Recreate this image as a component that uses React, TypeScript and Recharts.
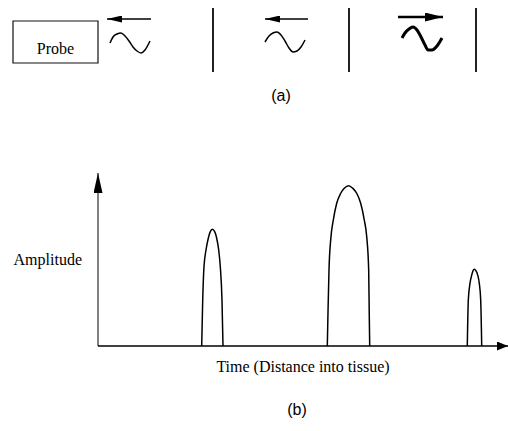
import React from "react";
import { LineChart, Line, XAxis, YAxis, ReferenceLine, ReferenceArea, Label } from "recharts";

// ---- Part (b): echo amplitude vs time (arbitrary units 0..100) ----
const peak1T = [25.29, 25.54, 25.85, 26.34, 26.9, 27.39, 27.88, 28.46, 28.95, 29.44, 29.83, 30.24, 30.49];
const peak1A = [0, 26.6, 45.8, 55.5, 62.3, 66.1, 67.5, 66.1, 62.3, 55.5, 45.8, 26.6, 0];
const peak2T = [55.93, 56.1, 56.34, 56.83, 57.39, 58.22, 59.2, 60.07, 61.15, 62.12, 63.1, 64.07, 64.95, 65.54, 66.02, 66.15, 66.27];
const peak2A = [0, 20, 43.9, 63.2, 72.8, 82.5, 88.3, 91.2, 92.7, 91.2, 88.3, 82.5, 72.8, 63.2, 43.9, 20, 0];
const peak3T = [90.07, 90.32, 90.73, 91.15, 91.46, 91.78, 92.2, 92.61, 93.0, 93.34, 93.59];
const peak3A = [0, 26.6, 36.2, 41.0, 43.4, 44.3, 43.4, 41.0, 36.2, 26.6, 0];

const xLabel = "Time (Distance into tissue)";
const yLabel = "Amplitude";

// ---- Part (a): diagram (diagram units) ----
const wave1X = [110, 113, 117, 121, 125, 129, 133, 137, 141, 145, 150];
const wave1Y = [43, 37, 34, 33, 36, 41, 47, 51, 53, 50, 41];
const wave2X = [265, 269, 273, 277, 281, 285, 289, 293, 297, 301, 305];
const wave2Y = [42, 36, 33, 32, 35, 41, 48, 52, 51, 47, 40];
const wave3X = [402, 405, 409, 413, 417, 421, 425, 428, 432, 437, 442];
const wave3Y = [38, 33, 29, 27, 30, 37, 45, 50, 50, 46, 38];
const arrow1X = [107, 151];
const arrow1Y = [19, 19];
const arrow2X = [265, 308];
const arrow2Y = [19, 19];
const arrow3X = [398, 443];
const arrow3Y = [17, 17];
const boundaryX = [213, 349, 476];
const boundaryY = [8, 72];
const probeBox = { x1: 13, x2: 98, y1: 21, y2: 63 };
const probeLabel = "Probe";
const panelLabels = ["(a)", "(b)"];

const zip = (xs: number[], ys: number[], kx: string, ky: string) =>
  xs.map((v, i) => ({ [kx]: v, [ky]: ys[i] }));

const serif = "'Liberation Serif', 'Times New Roman', serif";
const sans = "'Liberation Sans', Arial, sans-serif";

export default function App() {
  return (
    <div style={{ position: "absolute", left: 0, top: 0, width: 508, height: 431, background: "#fff", overflow: "hidden" }}>
      <svg width={0} height={0} style={{ position: "absolute" }}>
        <defs>
          <marker id="axArrowX" viewBox="0 0 11 9" refX={11} refY={4.5} markerWidth={11} markerHeight={9} markerUnits="userSpaceOnUse" orient="auto">
            <path d="M0,0 L11,4.5 L0,9 z" fill="#000" />
          </marker>
          <marker id="axArrowY" viewBox="0 0 20 9" refX={20} refY={4.5} markerWidth={20} markerHeight={9} markerUnits="userSpaceOnUse" orient="auto-start-reverse">
            <path d="M0,0 L20,4.5 L0,9 z" fill="#000" />
          </marker>
          <marker id="smallArrow" viewBox="0 0 15 7" refX={15} refY={3.5} markerWidth={15} markerHeight={7} markerUnits="userSpaceOnUse" orient="auto-start-reverse">
            <path d="M0,0 L15,3.5 L0,7 z" fill="#000" />
          </marker>
          <marker id="boldArrow" viewBox="0 0 18 9" refX={18} refY={4.5} markerWidth={18} markerHeight={9} markerUnits="userSpaceOnUse" orient="auto">
            <path d="M0,0 L18,4.5 L0,9 z" fill="#000" />
          </marker>
        </defs>
      </svg>

      {/* Part (a) diagram */}
      <div style={{ position: "absolute", left: 0, top: 0 }}>
        <LineChart width={508} height={90} margin={{ top: 0, right: 0, bottom: 0, left: 0 }}>
          <XAxis type="number" dataKey="x" domain={[0, 508]} hide />
          <YAxis type="number" dataKey="y" domain={[0, 90]} reversed hide />
          <ReferenceArea x1={probeBox.x1} x2={probeBox.x2} y1={probeBox.y1} y2={probeBox.y2} fill="none" fillOpacity={0} stroke="#111" strokeWidth={1.2} ifOverflow="visible">
            <Label value={probeLabel} position="insideBottom" offset={9} fill="#000" style={{ fontFamily: serif, fontSize: 16 }} />
          </ReferenceArea>
          {boundaryX.map((bx) => (
            <ReferenceLine key={bx} segment={[{ x: bx, y: boundaryY[0] }, { x: bx, y: boundaryY[1] }]} stroke="#222" strokeWidth={2} ifOverflow="visible" />
          ))}
          <Line data={zip(arrow1X, arrow1Y, "x", "y")} dataKey="y" stroke="#000" strokeWidth={1.5} dot={false} isAnimationActive={false} markerStart="url(#smallArrow)" />
          <Line data={zip(arrow2X, arrow2Y, "x", "y")} dataKey="y" stroke="#000" strokeWidth={1.5} dot={false} isAnimationActive={false} markerStart="url(#smallArrow)" />
          <Line data={zip(arrow3X, arrow3Y, "x", "y")} dataKey="y" stroke="#000" strokeWidth={2.5} dot={false} isAnimationActive={false} markerEnd="url(#boldArrow)" />
          <Line data={zip(wave1X, wave1Y, "x", "y")} dataKey="y" type="monotone" stroke="#000" strokeWidth={1.5} dot={false} isAnimationActive={false} />
          <Line data={zip(wave2X, wave2Y, "x", "y")} dataKey="y" type="monotone" stroke="#000" strokeWidth={1.5} dot={false} isAnimationActive={false} />
          <Line data={zip(wave3X, wave3Y, "x", "y")} dataKey="y" type="monotone" stroke="#000" strokeWidth={3} dot={false} isAnimationActive={false} />
        </LineChart>
      </div>

      {/* Part (b) chart */}
      <div style={{ position: "absolute", left: 0, top: 0 }}>
        <LineChart width={508} height={431} margin={{ top: 173, right: 0, bottom: 84, left: 97 }}>
          <XAxis type="number" dataKey="t" domain={[0, 100]} tick={false} tickLine={false} height={1}
            axisLine={{ stroke: "#000", strokeWidth: 1.5, markerEnd: "url(#axArrowX)" }} allowDataOverflow>
            <Label value={xLabel} position="bottom" offset={14} fill="#000" style={{ fontFamily: serif, fontSize: 16 }} />
          </XAxis>
          <YAxis type="number" dataKey="a" domain={[0, 100]} tick={false} tickLine={false} width={1}
            axisLine={{ stroke: "#000", strokeWidth: 1, markerStart: "url(#axArrowY)" }}>
            <Label value={yLabel} position="left" offset={15} fill="#000" style={{ fontFamily: serif, fontSize: 16 }} />
          </YAxis>
          <Line data={zip(peak1T, peak1A, "t", "a")} dataKey="a" type="monotone" stroke="#000" strokeWidth={1.5} dot={false} isAnimationActive={false} />
          <Line data={zip(peak2T, peak2A, "t", "a")} dataKey="a" type="monotone" stroke="#000" strokeWidth={1.5} dot={false} isAnimationActive={false} />
          <Line data={zip(peak3T, peak3A, "t", "a")} dataKey="a" type="monotone" stroke="#000" strokeWidth={1.5} dot={false} isAnimationActive={false} />
        </LineChart>
      </div>

      {/* Panel captions */}
      <svg width={508} height={431} style={{ position: "absolute", left: 0, top: 0, pointerEvents: "none" }}>
        <text x={281} y={101} textAnchor="middle" fontFamily={sans} fontSize={16} fill="#000">{panelLabels[0]}</text>
        <text x={297} y={415} textAnchor="middle" fontFamily={sans} fontSize={16} fill="#000">{panelLabels[1]}</text>
      </svg>
    </div>
  );
}
